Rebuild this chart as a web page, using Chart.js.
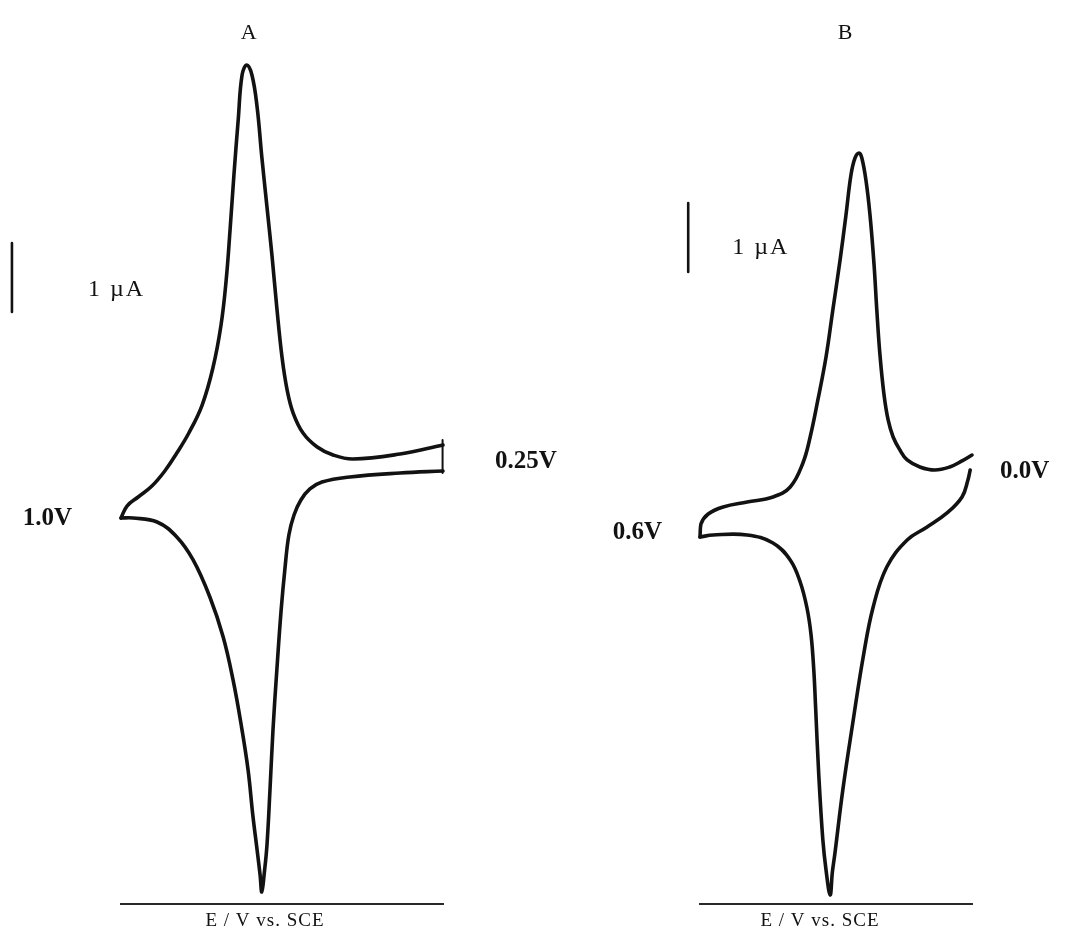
<!DOCTYPE html>
<html>
<head>
<meta charset="utf-8">
<title>Cyclic voltammograms A and B</title>
<script src="https://cdn.jsdelivr.net/npm/chart.js@4.4.1/dist/chart.umd.min.js"></script>
<style>
  html, body { margin: 0; padding: 0; background: #fff; }
  #wrap { position: relative; width: 1070px; height: 932px; }
  canvas { position: absolute; top: 0; }
  #cvA { left: 0; }
  #cvB { left: 535px; }
</style>
</head>
<body>
<div id="wrap">
  <canvas id="cvA" width="600" height="932"></canvas>
  <canvas id="cvB" width="535" height="932"></canvas>
</div>
<script>
// ---- panel A : scan 0.25 V -> 1.0 V -> 0.25 V (potential in V, current in uA)
var potA_fwd = [0.250, 0.350, 0.460, 0.506, 0.543, 0.576, 0.599, 0.613, 0.625, 0.637, 0.648,
                0.660, 0.672, 0.683, 0.695, 0.707, 0.718, 0.727, 0.737, 0.746, 0.755, 0.767,
                0.786, 0.811, 0.842, 0.870, 0.898, 0.928, 0.960, 0.986, 1.000];
var curA_fwd = [0.217, 0.087, 0.014, 0.072, 0.188, 0.391, 0.681, 1.014, 1.493, 2.203, 2.942,
                3.667, 4.391, 5.116, 5.580, 5.725, 5.580, 4.928, 4.130, 3.333, 2.609, 1.957,
                1.333, 0.797, 0.391, 0.101, -0.159, -0.377, -0.536, -0.667, -0.841];
var potA_rev = [1.000, 0.972, 0.916, 0.870, 0.832, 0.793, 0.762, 0.739, 0.720, 0.704, 0.693,
                0.683, 0.676, 0.672, 0.666, 0.660, 0.653, 0.646, 0.637, 0.627, 0.618, 0.609,
                0.597, 0.581, 0.560, 0.532, 0.467, 0.350, 0.250];
var curA_rev = [-0.841, -0.841, -0.899, -1.116, -1.449, -1.986, -2.565, -3.188, -3.841, -4.493, -5.145,
                -5.652, -6.014, -6.261, -5.971, -5.580, -4.783, -3.913, -3.043, -2.174, -1.565, -1.087,
                -0.797, -0.580, -0.420, -0.319, -0.246, -0.188, -0.159];
var potA_pen = [0.251, 0.251];
var curA_pen = [0.290, -0.190];
var rangeA = [0.25, 1.0];
var vertexA = ["1.0V", "0.25V"];
var barPotA = 1.254;
var barCurA = [3.145, 2.145];

// ---- panel B : scan 0.0 V -> 0.6 V -> 0.0 V
var potB_fwd = [0.000, 0.022, 0.049, 0.082, 0.115, 0.143, 0.159, 0.174, 0.185, 0.194, 0.203,
                0.210, 0.216, 0.225, 0.234, 0.243, 0.249, 0.258, 0.267, 0.278, 0.291, 0.307,
                0.322, 0.340, 0.357, 0.373, 0.401, 0.439, 0.496, 0.549, 0.582, 0.598, 0.600];
var curB_fwd = [0.072, -0.014, -0.101, -0.145, -0.101, 0.000, 0.145, 0.333, 0.580, 0.942, 1.522,
                2.174, 2.826, 3.551, 4.058, 4.377, 4.449, 4.377, 4.130, 3.551, 2.899, 2.174,
                1.493, 0.870, 0.333, -0.043, -0.391, -0.536, -0.609, -0.681, -0.783, -0.928, -1.116];
var potB_rev = [0.600, 0.571, 0.496, 0.439, 0.401, 0.379, 0.364, 0.355, 0.349, 0.345, 0.338,
                0.329, 0.322, 0.313, 0.308, 0.302, 0.285, 0.263, 0.240, 0.218, 0.188, 0.143,
                0.099, 0.055, 0.022, 0.009, 0.004];
var curB_rev = [-1.116, -1.087, -1.087, -1.203, -1.449, -1.768, -2.145, -2.536, -3.043, -3.580, -4.565,
                -5.507, -5.942, -6.304, -5.971, -5.681, -4.783, -3.812, -2.855, -2.130, -1.551, -1.159,
                -0.971, -0.768, -0.536, -0.290, -0.145];
var rangeB = [0.0, 0.6];
var vertexB = ["0.6V", "0.0V"];
var barPotB = 0.626;
var barCurB = [3.725, 2.725];

var currentRange = [-6.435, 6.087];
var axisTitle = "E / V vs. SCE";
var barText = "1 \u00b5A";

var SERIF = '"Liberation Serif", "DejaVu Serif", serif';
var INK = "#121212";

function pts(xs, ys) {
  return xs.map(function (x, i) { return { x: x, y: ys[i] }; });
}

function trace(data, width, tension) {
  return {
    data: data,
    showLine: true,
    borderColor: INK,
    borderWidth: width,
    borderCapStyle: "round",
    borderJoinStyle: "round",
    pointRadius: 0,
    tension: tension,
    clip: false
  };
}

// text drawn at data positions, nudged by a few pixels
var notes = {
  id: "notes",
  afterDraw: function (chart, args, opts) {
    var ctx = chart.ctx, sx = chart.scales.x, sy = chart.scales.y;
    ctx.save();
    ctx.fillStyle = INK;
    ctx.textBaseline = "middle";
    opts.items.forEach(function (it) {
      ctx.font = it.font;
      ctx.textAlign = it.align || "center";
      if ("letterSpacing" in ctx) ctx.letterSpacing = it.spacing || "0px";
      ctx.fillText(it.text, sx.getPixelForValue(it.x) + (it.dx || 0), sy.getPixelForValue(it.y) + (it.dy || 0));
    });
    ctx.restore();
  }
};

function panel(id, range, padding, datasets, items) {
  return new Chart(document.getElementById(id), {
    type: "scatter",
    data: { datasets: datasets },
    options: {
      responsive: false,
      animation: false,
      events: [],
      layout: { padding: padding },
      scales: {
        x: {
          type: "linear",
          reverse: true,
          min: range[0],
          max: range[1],
          ticks: { display: false },
          grid: { display: false, drawTicks: false },
          border: { display: true, color: "#2a2a2a", width: 2 }
        },
        y: {
          display: false,
          min: currentRange[0],
          max: currentRange[1]
        }
      },
      plugins: {
        legend: { display: false },
        tooltip: { enabled: false },
        notes: { items: items }
      }
    },
    plugins: [notes]
  });
}

var titleFont = "22px " + SERIF;
var barFont = "24px " + SERIF;
var vertexFont = "bold 25px " + SERIF;
var axisFont = "19px " + SERIF;

panel("cvA", rangeA, { left: 121, right: 157, top: 40, bottom: 28 }, [
  trace(pts(potA_fwd, curA_fwd), 3.6, 0.4),
  trace(pts(potA_rev, curA_rev), 3.6, 0.4),
  trace(pts(potA_pen, curA_pen), 2, 0),
  trace(pts([barPotA, barPotA], barCurA), 2.6, 0)
], [
  { text: "A", x: 0.707, y: currentRange[1], dx: 2, dy: -7, font: titleFont },
  { text: barText, x: barPotA, y: (barCurA[0] + barCurA[1]) / 2, dx: 76, dy: 12, align: "left", font: barFont, spacing: "2px" },
  { text: vertexA[0], x: potA_rev[0], y: curA_rev[0], dx: -49, dy: 1, align: "right", font: vertexFont },
  { text: vertexA[1], x: potA_fwd[0], y: curA_fwd[0], dx: 52, dy: 17, align: "left", font: vertexFont },
  { text: axisTitle, x: (rangeA[0] + rangeA[1]) / 2, y: currentRange[0], dx: -17, dy: 17, font: axisFont, spacing: "1px" }
]);

panel("cvB", rangeB, { left: 165, right: 98, top: 40, bottom: 28 }, [
  trace(pts(potB_fwd, curB_fwd), 3.6, 0.4),
  trace(pts(potB_rev, curB_rev), 3.6, 0.4),
  trace(pts([barPotB, barPotB], barCurB), 2.6, 0)
], [
  { text: "B", x: 0.249, y: currentRange[1], dx: -14, dy: -7, font: titleFont },
  { text: barText, x: barPotB, y: (barCurB[0] + barCurB[1]) / 2, dx: 44, dy: 10, align: "left", font: barFont, spacing: "2px" },
  { text: vertexB[0], x: potB_rev[0], y: curB_rev[0], dx: -38, dy: -4, align: "right", font: vertexFont },
  { text: vertexB[1], x: potB_fwd[0], y: curB_fwd[0], dx: 28, dy: 17, align: "left", font: vertexFont },
  { text: axisTitle, x: (rangeB[0] + rangeB[1]) / 2, y: currentRange[0], dx: -16, dy: 17, font: axisFont, spacing: "1px" }
]);
</script>
</body>
</html>
